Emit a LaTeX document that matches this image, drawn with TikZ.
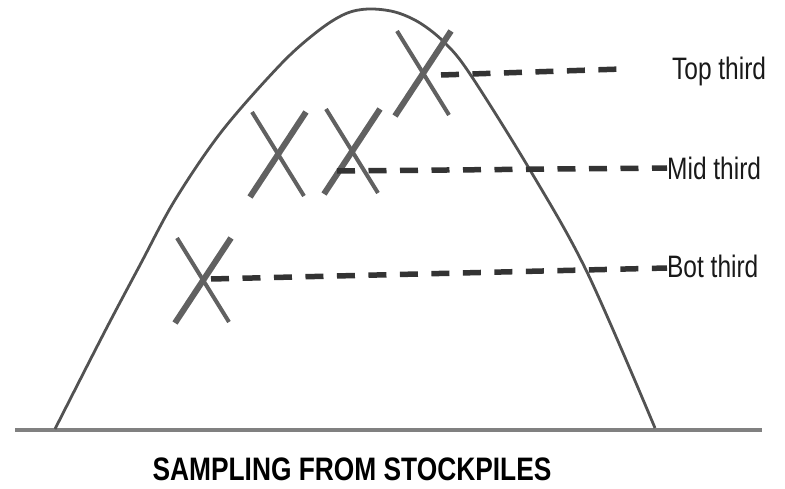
\documentclass[tikz,border=0pt]{standalone}
\usepackage{fontspec}
\setmainfont{Liberation Sans}
\usetikzlibrary{calc}
\begin{document}
\begin{tikzpicture}[x=1pt,y=-1pt,
  pile/.style={draw=black!68,line width=2.8pt,line join=round},
  ground/.style={draw=black!50,line width=3.5pt},
  xthick/.style={draw=black!62,line width=6pt},
  xthin/.style={draw=black!62,line width=4pt},
  dashline/.style={draw=black!80,line width=5.5pt,dash pattern=on 18pt off 13.5pt},
  lbl/.style={anchor=base west,inner sep=0pt,font=\fontsize{31}{32}\selectfont,xscale=0.79,text=black!90},
  title/.style={anchor=base,inner sep=0pt,font=\bfseries\fontsize{32.5}{34}\selectfont,xscale=0.81}]
\useasboundingbox (0,0) rectangle (785,489);
% ground
\draw[ground] (15,430) -- (762,430);
% pile
\draw[pile] plot[smooth,tension=0.55] coordinates {(55,429) (104,333) (140,265) (175,200) (222,131) (281,64) (318,31) (345,14) (368,9) (395,12) (420,23) (445,43) (470,74) (530,170) (587,272) (655,428)};
% X marks
\coordinate (x1) at (203,280);
\coordinate (x2) at (278,154);
\coordinate (x3) at (352,151);
\coordinate (x4) at (423,73);
\foreach \c in {x1,x2,x3,x4}{
  \draw[xthick] ($(\c)+(-28,43)$) -- ($(\c)+(28,-42)$);
  \draw[xthin] ($(\c)+(-26,-42)$) -- ($(\c)+(26,42)$);
}
% labels
\node[lbl] (top) at (672,80) {Top third};
\node[lbl] (mid) at (667,180) {Mid third};
\node[lbl] (bot) at (667,278) {Bot third};
\coordinate (topend) at (622,69);
\coordinate (t0) at (441,75);
\coordinate (m0) at (337,171);
\coordinate (b0) at (211,279);
% dashed connectors
\draw[dashline] (t0) -- (topend);
\draw[dashline] (m0) -- (mid.west |- 0,168);
\draw[dashline] (b0) -- (bot.west |- 0,268);
% title
\node[title] (ttl) at (352,480) {SAMPLING FROM STOCKPILES};
\end{tikzpicture}
\end{document}
